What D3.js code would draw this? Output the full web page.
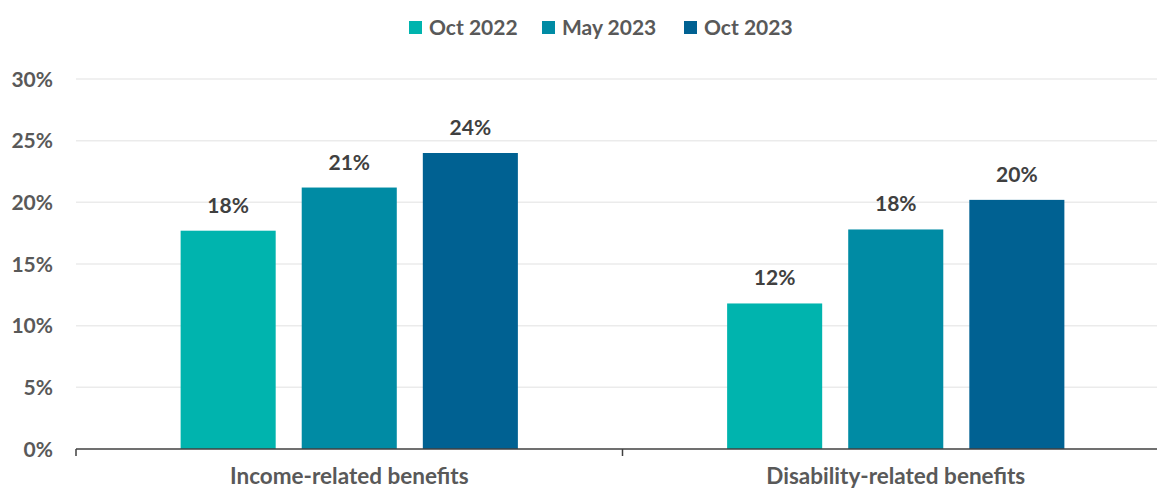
<!DOCTYPE html>
<html>
<head>
<meta charset="utf-8">
<script src="https://cdn.jsdelivr.net/npm/d3@7"></script>
<style>
  html, body { margin: 0; padding: 0; background: #fff; }
  svg { display: block; font-family: Lato, "Open Sans", sans-serif; font-weight: 700; }
</style>
</head>
<body>
<svg id="chart" width="1157" height="489"></svg>
<script>
// Share of claimants receiving each benefit type
const categories = ["Income-related benefits", "Disability-related benefits"];
const seriesNames = ["Oct 2022", "May 2023", "Oct 2023"];
const oct2022 = [0.177, 0.118];
const may2023 = [0.212, 0.178];
const oct2023 = [0.240, 0.202];
const yTicks = [0, 0.05, 0.10, 0.15, 0.20, 0.25, 0.30];

const seriesValues = [oct2022, may2023, oct2023];
const colors = ["#00B4AE", "#008BA4", "#006192"];

const svg = d3.select("#chart");
const W = 1157, H = 489;

const y = d3.scaleLinear().domain([0, 0.30]).range([449, 79]);
const x = d3.scaleBand().domain(categories).range([76, 1169]).paddingInner(0).paddingOuter(0);
const xSub = d3.scaleBand().domain(seriesNames).range([0, x.bandwidth()])
  .paddingInner(0.215).paddingOuter(0.864);

// gridlines
svg.append("g").selectAll("line").data(yTicks.filter(d => d > 0)).join("line")
  .attr("x1", 76).attr("x2", W)
  .attr("y1", d => y(d)).attr("y2", d => y(d))
  .attr("stroke", "#ebebeb").attr("stroke-width", 1.5);

// y tick labels
svg.append("g").selectAll("text").data(yTicks).join("text")
  .attr("x", 53).attr("y", d => y(d)).attr("dy", "0.36em")
  .attr("text-anchor", "end").attr("font-size", 21).attr("fill", "#595959")
  .text(d3.format(".0%"));

// bars
const rows = categories.map((c, i) => ({ cat: c, vals: seriesNames.map((s, j) => ({ s, v: seriesValues[j][i], j })) }));
const groups = svg.append("g").selectAll("g").data(rows).join("g")
  .attr("transform", d => `translate(${x(d.cat)},0)`);

groups.selectAll("rect").data(d => d.vals).join("rect")
  .attr("x", d => xSub(d.s)).attr("width", xSub.bandwidth())
  .attr("y", d => y(d.v)).attr("height", d => y(0) - y(d.v))
  .attr("fill", d => colors[d.j]);

groups.selectAll("text").data(d => d.vals).join("text")
  .attr("x", d => xSub(d.s) + xSub.bandwidth() / 2)
  .attr("y", d => y(d.v) - 18)
  .attr("text-anchor", "middle").attr("font-size", 21).attr("fill", "#404040")
  .text(d => d3.format(".0%")(d.v));

// x axis: baseline, category boundary ticks and labels
const axisG = svg.append("g").attr("transform", `translate(0,${y(0)})`);
axisG.append("line").attr("x1", 76).attr("x2", W).attr("y1", 0).attr("y2", 0)
  .attr("stroke", "#404040").attr("stroke-width", 1.5);
const boundaries = [76, 76 + x.bandwidth(), 76 + 2 * x.bandwidth()];
axisG.selectAll(".tk").data(boundaries).join("line").attr("class", "tk")
  .attr("x1", d => d).attr("x2", d => d).attr("y1", 0).attr("y2", 7)
  .attr("stroke", "#404040").attr("stroke-width", 1.5);
axisG.selectAll(".cat").data(categories).join("text").attr("class", "cat")
  .attr("x", d => x(d) + x.bandwidth() / 2).attr("y", 34.5)
  .attr("text-anchor", "middle").attr("font-size", 22.5).attr("fill", "#595959")
  .text(d => d);

// legend
const legendX = [409, 542, 684];
const legend = svg.append("g").selectAll("g").data(seriesNames).join("g")
  .attr("transform", (d, i) => `translate(${legendX[i]},21)`);
legend.append("rect").attr("width", 13).attr("height", 13).attr("fill", (d, i) => colors[i]);
legend.append("text").attr("x", 20).attr("y", 13.5)
  .attr("font-size", 21).attr("fill", "#595959").text(d => d);
</script>
</body>
</html>
